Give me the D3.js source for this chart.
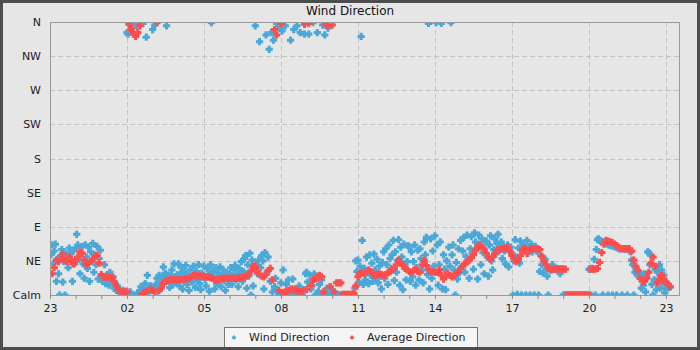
<!DOCTYPE html>
<html>
<head>
<meta charset="utf-8">
<script src="https://cdn.jsdelivr.net/npm/d3@7"></script>
<style>
  html, body { margin: 0; padding: 0; background: #e6e6e6; }
  svg { display: block; font-family: "DejaVu Sans", sans-serif; }
</style>
</head>
<body>
<svg id="chart" width="700" height="350"></svg>
<script>
// Sampling: wind direction every 2.5 minutes, 5-minute running average, both from 23:00.
const startTime = new Date(2024, 0, 1, 23, 0);
const windStepMinutes = 2.5;
const avgStepMinutes = 5;

// Direction labels, one per 45 degrees (0 = calm).
const directionLabels = ["Calm", "NE", "E", "SE", "S", "SW", "W", "NW", "N"];
const directionTicks = [0, 45, 90, 135, 180, 225, 270, 315, 360];

const seriesNames = ["Wind Direction", "Average Direction"];

// Measured wind direction (degrees), 24 samples per hour.
const windDirection = [
  null, 53, 66, 41, 58, 67, 18, 47, 28, 0, 52, 60, 17, 44, 0, 55, 49, 36, 62, 54, 45, 18, 58, 41,
  62, 80, 66, 47, 28, 55, 64, 41, 22, 66, 50, 35, 63, 18, 57, 45, 68, 30, 53, 40, 64, 21, 48, 59,
  25, 18, 21, 40, 15, 26, 20, 13, 30, 22, 17, 24, 9, 15, 6, 12, 5, 8, 3, 0, 6, 4, 2, 5,
  346, 344, 358, 4, 352, 356, 359, 0, 357, 355, 2, 359, 6, 11, 4, 358, 9, 15, 340, 26, 7, 5, 12, 8,
  350, 8, 356, 14, 22, 5, 26, 17, 12, 25, 37, 20, 29, 355, 18, 24, 10, 26, 33, 14, 41, 22, 16, 27,
  41, 12, 28, 36, 8, 19, 30, 39, 14, 25, 6, 33, 22, 17, 38, 27, 10, 31, 20, 40, 15, 7, 29, 24,
  38, 21, 12, 35, 27, 5, 40, 359, 31, 24, 8, 36, 15, 29, 22, 37, 11, 26, 33, 19, 6, 30, 23, 14,
  28, 36, 14, 24, 33, 39, 20, 27, 11, 35, 29, 44, 18, 31, 48, 52, 9, 40, 25, 55, 0, 46, 12, 37,
  355, 40, 28, 46, 334, 36, 52, 45, 8, 56, 343, 30, 50, 324, 18, 346, 4, 336, 11, 22, 358, 5, 2, 352,
  16, 348, 33, 3, 355, 14, 0, 20, 6, 336, 2, 21, 350, 8, 0, 355, 5, 12, 346, 3, 0, 7, 344, 28,
  30, 17, 344, 26, 8, 12, 359, 28, 0, 22, 346, 5, 14, 0, 20, 356, 3, 343, 0, 9, 352, 0, 11, 4,
  0, 4, 0, 0, 1, 0, 0, 0, 0, 0, 0, 0, 0, 0, 0, 0, 0, 0, 0, 0, 2, 9, 45, 31,
  46, 17, 38, 341, 72, 14, 35, 20, 50, 31, 15, 53, 26, 42, 18, 54, 33, 22, 47, 16, 38, 25, 8, 43,
  57, 22, 61, 40, 14, 66, 48, 35, 53, 72, 19, 57, 30, 45, 73, 13, 63, 50, 7, 67, 38, 20, 44, 65,
  63, 18, 57, 24, 44, 66, 13, 36, 59, 20, 61, 48, 33, 16, 70, 53, 76, 27, 358, 8, 74, 22, 58, 38,
  78, 359, 66, 13, 40, 70, 358, 8, 53, 34, 7, 45, 28, 63, 38, 359, 53, 66, 33, 0, 43, 21, 61, 29,
  72, 37, 58, 76, 30, 51, 79, 45, 22, 61, 77, 55, 34, 82, 70, 61, 21, 79, 66, 40, 74, 56, 28, 71,
  71, 50, 25, 66, 78, 45, 33, 60, 74, 54, 68, 80, 58, 62, 70, 48, 64, 58, 41, 61, 66, 37, 57, 63,
  55, 0, 45, 73, 50, 1, 62, 42, 71, 0, 58, 66, 60, 0, 72, 55, 63, 0, 67, 57, 61, 0, 64, 58,
  58, 0, 31, 52, 40, 29, 47, 47, 34, 25, 0, 35, 34, 33, 40, 35, 34, 34, 35, 33, 34, 28, 34, 34,
  0, 0, 0, 0, 0, 0, 0, 0, 0, 0, 0, 0, 0, 0, 0, 0, 0, 0, 0, 0, 0, 0, 0, 0,
  34, 34, 0, 35, 34, 47, 0, 60, 73, 74, 72, 71, 70, 0, 70, 69, 68, 67, 0, 66, 66, 65, 0, 64,
  64, 63, 0, 62, 61, 61, 61, 0, 61, 61, 60, 61, 0, 61, 58, 57, 46, 40, 0, 30, 34, 28, 25, 30,
  26, 9, 25, 13, 28, 4, 22, 57, 56, 40, 52, 14, 0, 20, 34, 7, 30, 21, 40, 9, 33, 16, 26, 3,
  8, 15, 12, 10, 11
];

// Average direction (degrees), 12 samples per hour.
const averageDirection = [
  null,
  28, 36, 46, 44, 47, 54, 46, 44, 50, 45, 41, 46,
  50, 57, 55, 46, 40, 42, 44, 47, 51, 52, 42, 27,
  24, 24, 24, 23, 23, 18, 12, 7, 4, 4, 4, 4,
  357, 350, 344, 341, 346, 355, 1, 3, 4, 6, 8, 6,
  4, 359, 6, 9, 15, 18, 19, 20, 20, 20, 20, 20,
  20, 21, 21, 21, 22, 24, 26, 26, 25, 25, 25, 24,
  24, 24, 23, 22, 20, 20, 21, 21, 22, 22, 22, 22,
  22, 22, 22, 22, 23, 23, 24, 25, 28, 32, 38, 38,
  31, 27, 25, 24, 27, 32, 35, 20, 350, 343, 6, 358,
  3, 4, 5, 6, 8, 6, 7, 5, 4, 5, 357, 7,
  358, 13, 20, 21, 22, 26, 24, 4, 357, 355, 11, 356,
  4, 16, 16, 16, 1, 1, 1, 1, 1, 2, 12, 24,
  29, 29, 28, 30, 33, 31, 27, 26, 27, 28, 27, 26,
  27, 29, 31, 33, 35, 40, 46, 43, 39, 35, 33, 31,
  30, 32, 34, 31, 30, 40, 46, 39, 34, 31, 31, 30,
  30, 33, 26, 21, 26, 28, 26, 24, 26, 28, 31, 35,
  38, 41, 44, 46, 49, 53, 59, 64, 66, 63, 61, 55,
  50, 47, 50, 55, 59, 60, 61, 61, 62, 63, 58, 52,
  48, 44, 46, 52, 60, 62, 55, 59, 61, 61, 61, 61,
  60, 51, 45, 40, 36, 33, 34, 34, 34, 34, 34, 34,
  34, 0, 0, 0, 0, 0, 0, 0, 0, 0, 0, 0,
  34, 34, 34, 35, 43, 56, 67, 72, 71, 70, 69, 67,
  65, 63, 61, 61, 61, 61, 61, 58, 46, 38, 32, 22,
  18, 18, 23, 30, 42, 50, 38, 16, 20, 26, 21, 17,
  14, 11
];

const colors = { wind: "#4aa8d9", avg: "#ff4d4d" };

const W = 700, H = 350;
const plot = { left: 50, top: 22, right: 680, bottom: 295 };

const svg = d3.select("#chart");

// page background
svg.append("rect").attr("width", W).attr("height", H).attr("fill", "#e6e6e6");

const minutes = m => new Date(startTime.getTime() + m * 60000);
const endTime = minutes(24 * 60 + 33);

const x = d3.scaleTime().domain([startTime, endTime]).range([plot.left, plot.right]);
const y = d3.scaleLinear().domain([0, 360]).range([plot.bottom, plot.top]);

const windPts = windDirection
  .map((v, i) => ({ t: minutes(i * windStepMinutes), v }))
  .filter(d => d.v !== null);
const avgPts = averageDirection
  .map((v, i) => ({ t: minutes(i * avgStepMinutes), v }))
  .filter(d => d.v !== null);

const hourTicks = d3.timeHour.every(1).range(startTime, minutes(24 * 60 + 1));
const labelTicks = hourTicks.filter(d => d.getHours() % 3 === 2);

// grid
const grid = svg.append("g").attr("stroke", "#c2c2c2").attr("stroke-dasharray", "5,3").attr("stroke-width", 1);
grid.selectAll("line.v").data(labelTicks.filter(d => x(d) > plot.left + 1)).join("line")
  .attr("x1", d => Math.round(x(d)) + 0.5).attr("x2", d => Math.round(x(d)) + 0.5)
  .attr("y1", plot.top).attr("y2", plot.bottom);
grid.selectAll("line.h").data(directionTicks.slice(1, -1)).join("line")
  .attr("x1", plot.left).attr("x2", plot.right)
  .attr("y1", d => Math.round(y(d)) + 0.5).attr("y2", d => Math.round(y(d)) + 0.5);

// markers, clipped to the plot area
svg.append("clipPath").attr("id", "plotClip").append("rect")
  .attr("x", plot.left).attr("y", plot.top)
  .attr("width", plot.right - plot.left).attr("height", plot.bottom - plot.top);

// chunky plus marker: a cross merged with a small diamond
const plusDiamond = {
  draw(ctx, size) {
    const r = Math.sqrt(size) / 2;        // half length of the arms
    const w = r * 0.42;                   // half width of the arms
    const d = r * 0.85;                   // diamond radius
    ctx.moveTo(-w, -r); ctx.lineTo(w, -r); ctx.lineTo(w, -w); ctx.lineTo(r, -w);
    ctx.lineTo(r, w); ctx.lineTo(w, w); ctx.lineTo(w, r); ctx.lineTo(-w, r);
    ctx.lineTo(-w, w); ctx.lineTo(-r, w); ctx.lineTo(-r, -w); ctx.lineTo(-w, -w);
    ctx.closePath();
    ctx.moveTo(0, -d); ctx.lineTo(d, 0); ctx.lineTo(0, d); ctx.lineTo(-d, 0);
    ctx.closePath();
  }
};

const marker = d3.symbol().type(plusDiamond).size(52);
const marks = svg.append("g").attr("clip-path", "url(#plotClip)");

marks.append("g").selectAll("path").data(windPts).join("path")
  .attr("d", marker)
  .attr("transform", d => `translate(${x(d.t)},${y(d.v)})`)
  .attr("fill", colors.wind);

marks.append("g").selectAll("path").data(avgPts).join("path")
  .attr("d", marker)
  .attr("transform", d => `translate(${x(d.t)},${y(d.v)})`)
  .attr("fill", colors.avg);

// plot border
svg.append("rect")
  .attr("x", plot.left + 0.5).attr("y", plot.top + 0.5)
  .attr("width", plot.right - plot.left - 1).attr("height", plot.bottom - plot.top)
  .attr("fill", "none").attr("stroke", "#999").attr("stroke-width", 1);

// x axis: a tick every hour, a label every three hours
const xAxis = d3.axisBottom(x)
  .tickValues(hourTicks)
  .tickSize(4)
  .tickFormat(d => d.getHours() % 3 === 2 ? d3.timeFormat("%H")(d) : "");
const gx = svg.append("g").attr("transform", `translate(0,${plot.bottom})`).call(xAxis);
gx.select(".domain").remove();
gx.selectAll(".tick line").attr("stroke", "#888");
gx.selectAll(".tick text").attr("font-size", 11).attr("fill", "#222")
  .attr("font-family", "DejaVu Sans, sans-serif").attr("dy", "0.71em").attr("y", 9);

// y axis: compass labels
const yAxis = d3.axisLeft(y)
  .tickValues(directionTicks)
  .tickSize(0)
  .tickPadding(9)
  .tickFormat((d, i) => directionLabels[i]);
const gy = svg.append("g").attr("transform", `translate(${plot.left},0)`).call(yAxis);
gy.select(".domain").remove();
gy.selectAll(".tick text").attr("font-size", 11).attr("fill", "#222")
  .attr("font-family", "DejaVu Sans, sans-serif");

// title
svg.append("text")
  .attr("x", W / 2).attr("y", 15)
  .attr("text-anchor", "middle")
  .attr("font-size", 12).attr("fill", "#111")
  .text("Wind Direction");

// legend
const legend = svg.append("g");
legend.append("rect")
  .attr("x", 224.5).attr("y", 327.5).attr("width", 253).attr("height", 22)
  .attr("fill", "#f5f5f5").attr("stroke", "#777");
const legendItems = [
  { name: seriesNames[0], color: colors.wind, mx: 234, tx: 249 },
  { name: seriesNames[1], color: colors.avg, mx: 352, tx: 367 }
];
const smallMarker = d3.symbol().type(plusDiamond).size(18);
legend.selectAll("path").data(legendItems).join("path")
  .attr("d", smallMarker)
  .attr("transform", d => `translate(${d.mx},337.5)`)
  .attr("fill", d => d.color);
legend.selectAll("text").data(legendItems).join("text")
  .attr("x", d => d.tx).attr("y", 341)
  .attr("font-size", 11).attr("fill", "#222")
  .text(d => d.name);

// dark outer frame
svg.append("rect")
  .attr("x", 1.5).attr("y", 1.5).attr("width", W - 3).attr("height", H - 3)
  .attr("fill", "none").attr("stroke", "#4d4d4d").attr("stroke-width", 3);
</script>
</body>
</html>
